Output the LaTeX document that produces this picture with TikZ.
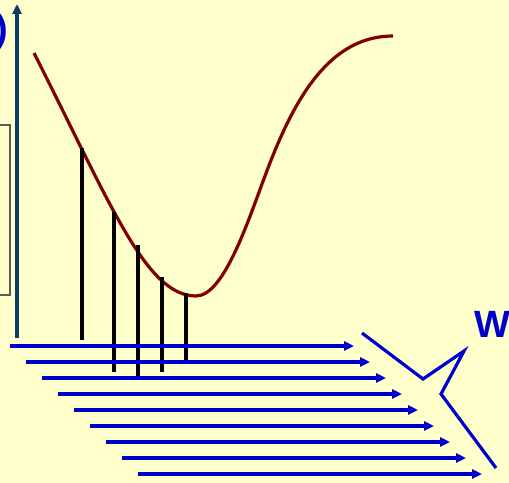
\documentclass[tikz,border=0pt]{standalone}
\usepackage{fontspec}
\setmainfont{Liberation Sans}
\usetikzlibrary{arrows.meta}
\definecolor{bgyellow}{HTML}{FFFFCC}
\definecolor{axisblue}{HTML}{0B3D66}
\definecolor{rayblue}{HTML}{0000CC}
\definecolor{curvered}{HTML}{800000}
\begin{document}
\begin{tikzpicture}[x=1bp,y=-1bp,
  ray/.style={rayblue,line width=3.2bp,-{Triangle[length=10bp,width=9bp]}},
  drop/.style={black,line width=3.2bp},
  lbl/.style={font=\bfseries\fontsize{38bp}{42bp}\selectfont,text=rayblue,inner sep=0pt}]
\fill[bgyellow] (0,0) rectangle (509,483);
\useasboundingbox (0,0) rectangle (509,483);
% grey box at left
\draw[gray!70!black,line width=1.4bp] (-5,125) -- (10,125) -- (10,295) -- (-5,295);
% axis
\coordinate (axb) at (17,338);
\coordinate (axt) at (17,4);
\draw[axisblue,line width=3.2bp,-{Triangle[length=10bp,width=9bp]}] (axb) -- (axt);
% labels
\node[lbl,anchor=base east] (paren) at (8,42) {)};
\node[lbl,anchor=base west] (w) at (474,337) {W};
% curve
\coordinate (c0) at (34,53);
\coordinate (c1) at (196,296);
\coordinate (c2) at (268,168);
\coordinate (c3) at (393,36);
\draw[curvered,line width=3.2bp] (c0) .. controls (111,205) and (146,296) .. (c1)
  .. controls (225,296) and (250,215) .. (c2)
  .. controls (295,97.5) and (330,36) .. (c3);
% vertical drop lines
\foreach \x/\ya/\yb [count=\i] in {82/148/340, 114/212/372, 138/245/380, 162/277/372, 186/293/364}{
  \coordinate (d\i a) at (\x,\ya);
  \coordinate (d\i b) at (\x,\yb);
  \draw[drop] (d\i a) -- (d\i b);
}
% rays
\foreach \i in {0,...,8}{
  \coordinate (r\i s) at ({10+16*\i},{346+16*\i});
  \coordinate (r\i e) at ({354+16*\i},{346+16*\i});
  \draw[ray] (r\i s) -- (r\i e);
}
% mirror outline
\coordinate (m1) at (362,333);
\coordinate (m2) at (423,379);
\coordinate (m3) at (464,351);
\coordinate (m4) at (441,394);
\coordinate (m5) at (496,468);
\draw[rayblue,line width=3.2bp,line join=miter] (m1) -- (m2) -- (m3) -- (m4) -- (m5);
\end{tikzpicture}
\end{document}
